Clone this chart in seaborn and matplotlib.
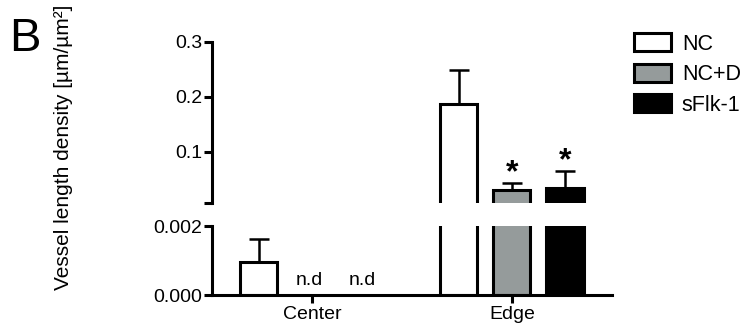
import numpy as np
import pandas as pd
import matplotlib
matplotlib.use("Agg")
import matplotlib.pyplot as plt
from matplotlib.patches import Patch
import seaborn as sns

# ---- data ----
regions = ["Center", "Edge"]
groups = ["NC", "NC+D", "sFlk-1"]
center_mean = [0.00096, 0.0, 0.0]      # 0.0 = not detected (n.d)
edge_mean = [0.187, 0.031, 0.0345]
center_err = [0.00066, 0.0, 0.0]
edge_err = [0.062, 0.0126, 0.031]
center_sig = [False, False, False]
edge_sig = [False, True, True]
group_colors = ["white", "#959b9b", "black"]

ylabel = "Vessel length density [µm/µm²]"
panel_letter = "B"

rows = []
for reg, means, errs, sigs in [("Center", center_mean, center_err, center_sig),
                               ("Edge", edge_mean, edge_err, edge_sig)]:
    for g, m, e, s in zip(groups, means, errs, sigs):
        rows.append({"region": reg, "group": g, "value": m, "err": e, "sig": s})
df = pd.DataFrame(rows)

sns.set_style("ticks")
plt.rcParams["font.family"] = ["Liberation Sans", "DejaVu Sans"]
plt.rcParams["axes.linewidth"] = 2.2
for k in ("text.color", "axes.labelcolor", "xtick.color", "ytick.color",
          "axes.edgecolor", "xtick.labelcolor", "ytick.labelcolor"):
    plt.rcParams[k] = "black"

fig = plt.figure(figsize=(7.5, 3.36), dpi=100)
ax_top = fig.add_axes([0.2827, 0.396, 0.533, 0.479])
ax_bot = fig.add_axes([0.2827, 0.122, 0.533, 0.205])

top_low = 0.0073
lw_bar = 2.2
lw_err = 1.8

for ax in (ax_top, ax_bot):
    sns.barplot(data=df, x="region", y="value", hue="group", order=regions,
                hue_order=groups, palette=group_colors, edgecolor="black",
                linewidth=lw_bar, errorbar=None, gap=0.3, legend=False,
                saturation=1, ax=ax)
    ax.set_xlabel("")
    ax.set_ylabel("")
    for cont, g in zip(ax.containers, groups):
        for bar in cont:
            x = bar.get_x() + bar.get_width() / 2
            h = bar.get_height()
            reg = regions[int(round(x))]
            rec = df[(df.region == reg) & (df.group == g)].iloc[0]
            if h == 0:
                bar.set_visible(False)
                if ax is ax_bot:
                    ax.annotate("n.d", (x, 0), xytext=(-2, 7), textcoords="offset points",
                                ha="center", va="baseline", fontsize=14)
                continue
            ax.errorbar([x], [h], yerr=[[0], [rec.err]], fmt="none", ecolor="black",
                        elinewidth=lw_err, capsize=7.5, capthick=lw_err, zorder=1)
            if rec.sig and ax is ax_top:
                ax.annotate("*", (x, h + rec.err), xytext=(0, 1), textcoords="offset points",
                            ha="center", va="baseline", fontsize=23, fontweight="bold")

# top segment
ax_top.set_ylim(top_low, 0.3)
ax_top.set_yticks([top_low, 0.1, 0.2, 0.3])
ax_top.set_yticklabels(["", "0.1", "0.2", "0.3"])
for s in ("top", "right", "bottom"):
    ax_top.spines[s].set_visible(False)
ax_top.tick_params(axis="x", bottom=False, labelbottom=False)

# bottom segment
ax_bot.set_ylim(0, 0.002)
ax_bot.set_yticks([0, 0.002])
ax_bot.set_yticklabels(["0.000", "0.002"])
for s in ("top", "right"):
    ax_bot.spines[s].set_visible(False)

for ax in (ax_top, ax_bot):
    ax.set_xlim(-0.5, 1.5)
    ax.tick_params(axis="y", length=6, width=2.2, pad=1, labelsize=14, colors="black")
    ax.tick_params(axis="x", length=6, width=2.2, pad=2, labelsize=14, colors="black")
    for sp in ax.spines.values():
        sp.set_color("black")
    ax.patch.set_alpha(0)

fig.text(0.0853, 0.5625, ylabel, rotation=90, ha="center", va="center", fontsize=15,
         color="black")
fig.text(9 / 750, 1 - 51 / 336, panel_letter, ha="left", va="baseline", fontsize=34,
         color="black")

handles = [Patch(facecolor=c, edgecolor="black", linewidth=lw_bar) for c in group_colors]
fig.legend(handles, groups, loc="upper left", bbox_to_anchor=(634 / 750, 1 - 33 / 336),
           frameon=False, fontsize=15.5, handlelength=1.72, handleheight=0.93,
           labelspacing=0.42, handletextpad=0.5, borderpad=0, borderaxespad=0,
           labelcolor="black")

fig.savefig("out.png", dpi=100)
